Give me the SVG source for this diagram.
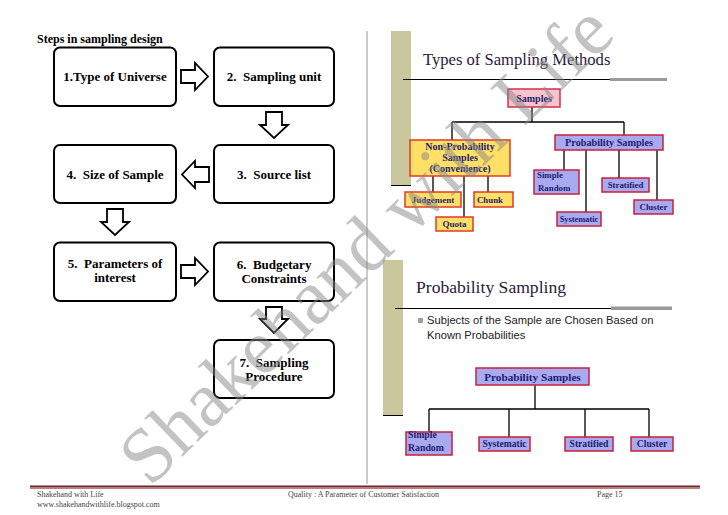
<svg xmlns="http://www.w3.org/2000/svg" width="728" height="515" viewBox="0 0 728 515">
<style>
.fbox{fill:#fff;stroke:#000;stroke-width:2}
.barrow{fill:#fff;stroke:#000;stroke-width:1.8;stroke-linejoin:miter}
.ft{font-family:"Liberation Serif",serif;font-weight:bold;font-size:13px;fill:#000;text-anchor:middle}
.conn{stroke:#000;stroke-width:1.3;fill:none}
.pink{fill:#f8c4cc;stroke:#d03050;stroke-width:1.5}
.yel{fill:#ffdf66;stroke:#e03a28;stroke-width:1.5}
.lav{fill:#a9a9f0;stroke:#c8203c;stroke-width:1.5}
.bt{font-family:"Liberation Serif",serif;font-weight:bold;fill:#1c1c6e}
.olive{fill:#c9c79b}
.title{font-family:"Liberation Serif",serif;fill:#2e1838}
.foot{font-family:"Liberation Serif",serif;font-size:8px;fill:#444}
</style>
<rect width="728" height="515" fill="#fff"/>

<!-- Left: steps in sampling design -->
<text x="37" y="43" style="font-family:'Liberation Serif',serif;font-weight:bold;font-size:12px;fill:#000">Steps in sampling design</text>

<g id="step1"><rect class="fbox" x="54" y="47.5" width="122" height="58.5" rx="6"/><text class="ft" x="115" y="81">1.Type of Universe</text></g>
<g id="step2"><rect class="fbox" x="214" y="47.5" width="120" height="58.5" rx="6"/><text class="ft" x="274" y="81" xml:space="preserve">2.  Sampling unit</text></g>
<g id="step3"><rect class="fbox" x="214" y="145" width="120" height="58" rx="6"/><text class="ft" x="274" y="179" xml:space="preserve">3.  Source list</text></g>
<g id="step4"><rect class="fbox" x="54" y="145" width="122" height="58" rx="6"/><text class="ft" x="115" y="179" xml:space="preserve">4.  Size of Sample</text></g>
<g id="step5"><rect class="fbox" x="54" y="242.5" width="122" height="58.5" rx="6"/><text class="ft" x="115" y="268" xml:space="preserve">5.  Parameters of</text><text class="ft" x="115" y="282">interest</text></g>
<g id="step6"><rect class="fbox" x="214" y="242.5" width="120" height="58.5" rx="6"/><text class="ft" x="274" y="269" xml:space="preserve">6.  Budgetary</text><text class="ft" x="274" y="283">Constraints</text></g>
<g id="step7"><rect class="fbox" x="214" y="340" width="120" height="58" rx="6"/><text class="ft" x="274" y="367" xml:space="preserve">7.  Sampling</text><text class="ft" x="274" y="381">Procedure</text></g>

<g id="flow-arrows">
<path class="barrow" d="M181,70 H195 V63 L208,76.5 L195,90 V83 H181 Z"/>
<path class="barrow" d="M266,112 H282 V125 H288 L274,138 L260,125 H266 Z"/>
<path class="barrow" d="M209,167 H195 V161 L182,174.5 L195,188 V182 H209 Z"/>
<path class="barrow" d="M107,209 H123 V222 H129 L115,235 L101,222 H107 Z"/>
<path class="barrow" d="M181,265 H195 V258 L208,271.5 L195,285 V278 H181 Z"/>
<path class="barrow" d="M266,307 H282 V319 H288 L274,333 L260,319 H266 Z"/>
</g>

<!-- separator -->
<line x1="367" y1="31" x2="367" y2="484" stroke="#aaa" stroke-width="1.2"/>

<!-- Slide 1 -->
<rect class="olive" x="391" y="31" width="20" height="154"/>
<line x1="391" y1="185.5" x2="411" y2="185.5" stroke="#000" stroke-width="1"/>
<text class="title" x="423" y="65" font-size="16.6">Types of Sampling Methods</text>
<line x1="403" y1="79.5" x2="610" y2="79.5" stroke="#000" stroke-width="1"/>
<rect x="610" y="78" width="57" height="3" fill="#9a9a9a"/>

<g id="conn1">
<path class="conn" d="M532,107 V122 M452,122 H624 M452,122 V140 M624,122 V135"/>
<path class="conn" d="M433,176 V192 M464,176 V217 M488,176 V192"/>
<path class="conn" d="M564,150 V170 M586,150 V212 M619,150 V178 M657,150 V200"/>
</g>
<g id="samples"><rect class="pink" x="508" y="89" width="52" height="18"/><text class="bt" x="534" y="102" font-size="10" text-anchor="middle">Samples</text></g>
<g id="nonprob"><rect class="yel" x="410" y="140" width="100" height="36"/>
<text class="bt" x="460" y="149.5" font-size="10" text-anchor="middle">Non-Probability</text>
<text class="bt" x="460" y="160.5" font-size="10" text-anchor="middle">Samples</text>
<text class="bt" x="460" y="172" font-size="10" text-anchor="middle">(Convenience)</text></g>
<g id="prob1"><rect class="lav" x="555" y="135" width="108" height="15"/><text class="bt" x="609" y="146" font-size="10.2" text-anchor="middle">Probability Samples</text></g>
<g id="judgement"><rect class="yel" x="405" y="192" width="56" height="15"/><text class="bt" x="433" y="202.5" font-size="9" text-anchor="middle">Judgement</text></g>
<g id="chunk"><rect class="yel" x="474" y="192" width="39" height="15"/><text class="bt" x="477" y="202.5" font-size="8.8">Chunk</text></g>
<g id="quota"><rect class="yel" x="436" y="217" width="37" height="14"/><text class="bt" x="454.5" y="226.5" font-size="9" text-anchor="middle">Quota</text></g>
<g id="simple1"><rect class="lav" x="534" y="170" width="45" height="24"/><text class="bt" x="537" y="178" font-size="8.8">Simple</text><text class="bt" x="538" y="190.5" font-size="8.8">Random</text></g>
<g id="stratified1"><rect class="lav" x="602" y="178" width="47" height="14"/><text class="bt" x="625.5" y="187.5" font-size="8.8" text-anchor="middle">Stratified</text></g>
<g id="systematic1"><rect class="lav" x="557" y="212" width="44" height="14"/><text class="bt" x="579" y="222" font-size="8.4" text-anchor="middle">Systematic</text></g>
<g id="cluster1"><rect class="lav" x="634" y="200" width="39" height="14"/><text class="bt" x="653.5" y="209.5" font-size="8.8" text-anchor="middle">Cluster</text></g>

<!-- Slide 2 -->
<rect class="olive" x="383" y="260" width="20" height="155"/>
<line x1="383" y1="415.5" x2="403" y2="415.5" stroke="#000" stroke-width="1"/>
<text class="title" x="416" y="293" font-size="17.6">Probability Sampling</text>
<line x1="395" y1="308.5" x2="611" y2="308.5" stroke="#000" stroke-width="1"/>
<rect x="611" y="306.5" width="61" height="3.5" fill="#9a9a9a"/>
<rect x="418" y="318" width="5" height="5" fill="#a0a0a0"/>
<text x="427" y="324" style="font-family:'Liberation Sans',Arial,sans-serif;font-size:11.2px;fill:#222">Subjects of the Sample are Chosen Based on</text>
<text x="427" y="338.5" style="font-family:'Liberation Sans',Arial,sans-serif;font-size:11.2px;fill:#222">Known Probabilities</text>

<g id="conn2">
<path class="conn" d="M535,385 V409 M429,409 H649 M429,409 V432 M509,409 V437 M585,409 V437 M649,409 V437"/>
</g>
<g id="prob2"><rect class="lav" x="476" y="368" width="113" height="17"/><text class="bt" x="532.5" y="380.5" font-size="11.2" text-anchor="middle">Probability Samples</text></g>
<g id="simple2"><rect class="lav" x="406" y="432" width="46" height="23"/><text class="bt" x="408" y="438" font-size="9.8">Simple</text><text class="bt" x="408" y="451" font-size="9.8">Random</text></g>
<g id="systematic2"><rect class="lav" x="479" y="437" width="51" height="14"/><text class="bt" x="504.5" y="447" font-size="9.6" text-anchor="middle">Systematic</text></g>
<g id="stratified2"><rect class="lav" x="565" y="437" width="48" height="14"/><text class="bt" x="589" y="447" font-size="9.6" text-anchor="middle">Stratified</text></g>
<g id="cluster2"><rect class="lav" x="631" y="437" width="42" height="14"/><text class="bt" x="652" y="447" font-size="9.6" text-anchor="middle">Cluster</text></g>

<!-- Footer -->
<rect x="30" y="485.5" width="670" height="1.8" fill="#6e2a2a"/>
<rect x="30" y="487.3" width="670" height="1.5" fill="#b06060"/>
<text class="foot" x="37" y="497">Shakehand with Life</text>
<text class="foot" x="37" y="507">www.shakehandwithlife.blogspot.com</text>
<text class="foot" x="288" y="497">Quality : A Parameter of Customer Satisfaction</text>
<text class="foot" x="597" y="497">Page 15</text>

<!-- Watermark -->
<text x="150" y="488" transform="rotate(-44 150 488)" style="font-family:'Liberation Serif',serif;font-size:78px;fill:#888;opacity:0.5">Shakehand with Life</text>
</svg>
